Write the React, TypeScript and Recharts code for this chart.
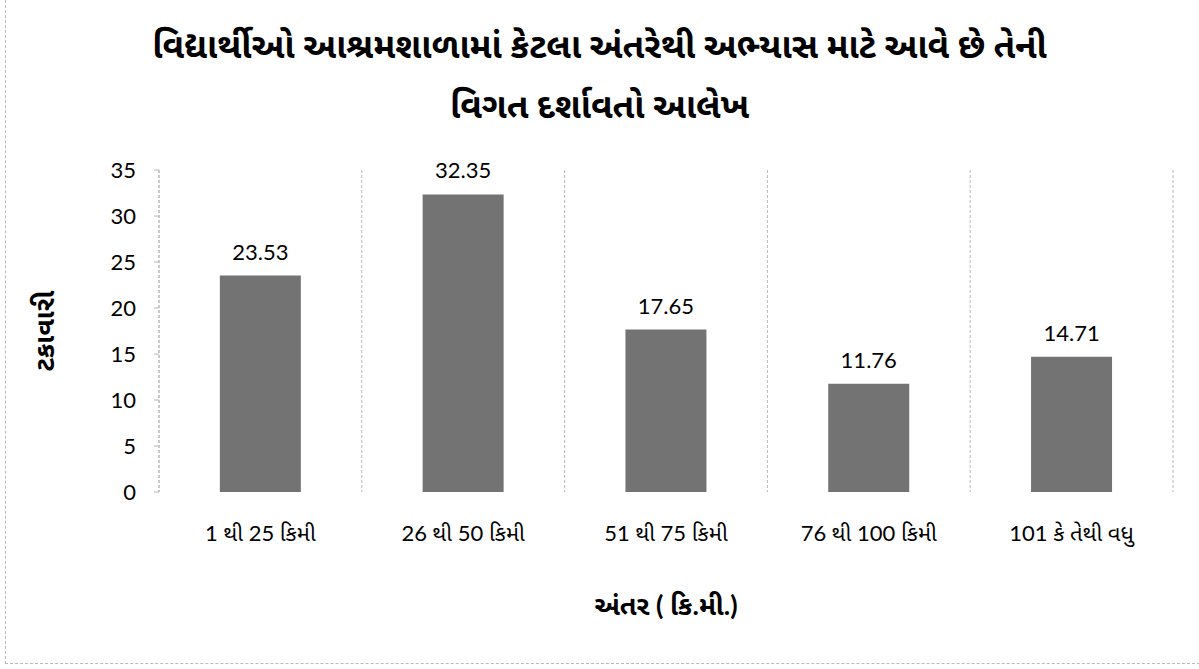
import React from "react";
import {
  BarChart,
  Bar,
  XAxis,
  YAxis,
  CartesianGrid,
  LabelList,
  Label,
} from "recharts";

const categories = [
  "1 થી 25 કિમી",
  "26 થી 50 કિમી",
  "51 થી 75 કિમી",
  "76 થી 100 કિમી",
  "101 કે તેથી વધુ",
];
const percentages = [23.53, 32.35, 17.65, 11.76, 14.71];
const yTicks = [0, 5, 10, 15, 20, 25, 30, 35];
const boundaryTicks = [0, 1, 2, 3, 4, 5];

const titleLine1 = "વિદ્યાર્થીઓ આશ્રમશાળામાં કેટલા અંતરેથી અભ્યાસ માટે આવે છે તેની";
const titleLine2 = "વિગત દર્શાવતો આલેખ";
const yLabel = "ટકાવારી";
const xLabel = "અંતર ( કિ.મી.)";

const data = categories.map((c, i) => ({ name: c, value: percentages[i], pos: i + 0.5 }));

const FONT = "Lato, 'Noto Sans', 'Noto Sans Gujarati', sans-serif";
const GRID = "#b8b8b8";

const EmptyTick = () => <g />;

export default function App() {
  return (
    <div
      style={{
        position: "absolute",
        left: 0,
        top: 0,
        width: 1199,
        height: 669,
        background: "#fff",
        fontFamily: FONT,
      }}
    >
      <div
        style={{
          position: "absolute",
          left: 5,
          top: 0,
          width: 1194,
          height: 663,
          borderLeft: "1px dashed #bbb",
          borderBottom: "1px dashed #bbb",
        }}
      />
      <div
        style={{
          position: "absolute",
          left: 0,
          top: 14,
          width: 1199,
          textAlign: "center",
          fontSize: 35,
          fontWeight: 700,
          lineHeight: "60px",
          color: "#000",
        }}
      >
        <div>{titleLine1}</div>
        <div>{titleLine2}</div>
      </div>
      <div style={{ position: "absolute", left: 0, top: 0 }}>
        <BarChart
          width={1199}
          height={669}
          data={data}
          margin={{ top: 170, right: 26, bottom: 0, left: 0 }}
          barCategoryGap="30%"
        >
          <CartesianGrid
            horizontal={false}
            vertical={true}
            stroke={GRID}
            strokeDasharray="3 2"
            verticalCoordinatesGenerator={({ offset }: any) =>
              boundaryTicks.map((t) => offset.left + (offset.width * t) / boundaryTicks[boundaryTicks.length - 1])
            }
          />
          <XAxis
            xAxisId="b"
            type="number"
            dataKey="pos"
            domain={[0, 5]}
            ticks={boundaryTicks}
            tick={EmptyTick}
            tickSize={8}
            axisLine={{ stroke: GRID, strokeDasharray: "3 2" }}
            tickLine={{ stroke: GRID, strokeDasharray: "3 2" }}
            height={0}
          />
          <XAxis
            dataKey="name"
            axisLine={false}
            tickLine={false}
            tickMargin={27}
            tick={{ fill: "#000", fontSize: 22, fontFamily: FONT }}
            interval={0}
            height={177}
          >
            <Label
              value={xLabel}
              position="insideTop"
              offset={104}
              style={{ fill: "#000", fontSize: 27, fontWeight: 700, fontFamily: FONT }}
            />
          </XAxis>
          <YAxis
            domain={[0, 35]}
            ticks={yTicks}
            width={159}
            tickSize={5}
            tickMargin={18}
            axisLine={{ stroke: GRID, strokeDasharray: "3 2" }}
            tickLine={{ stroke: GRID }}
            tick={{ fill: "#000", fontSize: 22, fontFamily: FONT }}
          >
            <Label
              value={yLabel}
              angle={-90}
              position="insideLeft"
              offset={44}
              style={{ fill: "#000", fontSize: 27, fontWeight: 700, fontFamily: FONT, textAnchor: "middle" }}
            />
          </YAxis>
          <Bar dataKey="value" fill="#737373" isAnimationActive={false}>
            <LabelList
              dataKey="value"
              position="top"
              offset={16}
              style={{ fill: "#000", fontSize: 22, fontFamily: FONT }}
            />
          </Bar>
        </BarChart>
      </div>
    </div>
  );
}
